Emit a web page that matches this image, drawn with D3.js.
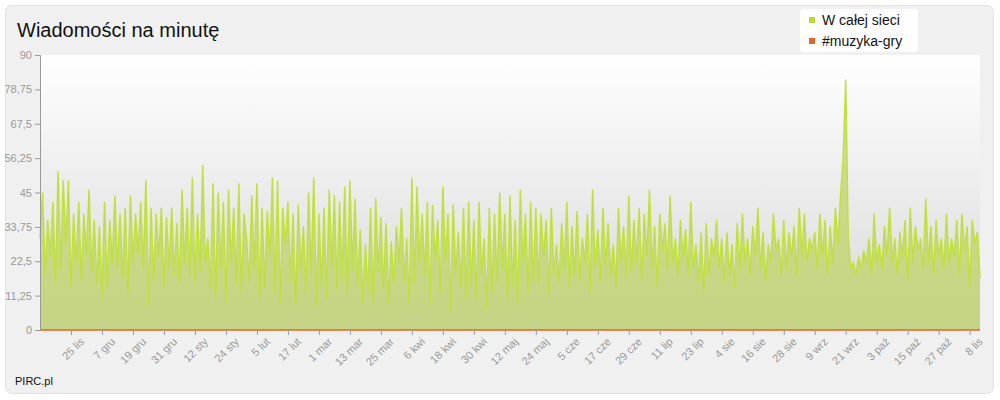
<!DOCTYPE html>
<html><head><meta charset="utf-8">
<script src="https://cdn.jsdelivr.net/npm/d3@7"></script>
<style>body{margin:0;background:#fff;font-family:"Liberation Sans",Arial,sans-serif}</style>
</head><body><svg id="chart" width="1000" height="400"></svg>
<script>
const startDate = new Date(2012, 10, 13);
const yTicks = [0, 11.25, 22.5, 33.75, 45, 56.25, 67.5, 78.75, 90];
const seriesNames = ["W całej sieci", "#muzyka-gry"];
const monthNames = ["sty","lut","mar","kwi","maj","cze","lip","sie","wrz","paź","lis","gru"];
// messages per minute, one value per day from 13 lis
const nov = [30,45,18,36,24,42,15,52,20,49,28,49,14,38,22,42,16,38];
const dec = [25,46,19,36,15,34,10,42,14,36,22,44,20,38,17,40,12,44,22,38,25,42,20,49,8,40,16,38,24,40,14];
const jan = [37,20,40,18,35,15,46,22,40,18,50,16,38,19,54,22,30,14,48,10,45,20,42,9,46,22,40,15,48,12,38];
const feb = [30,15,44,20,48,10,40,14,39,24,50,12,49,9,40,28,42,16,38,8,41,20,34,12,45,18,50,8];
const mar = [38,14,40,10,46,20,44,13,42,16,47,12,49,20,43,14,33,9,28,12,40,8,43,19,37,13,35,9,29,15,34];
const apr = [22,40,16,30,8,50,15,47,22,38,18,42,8,41,23,36,12,47,22,38,6,41,18,32,14,40,10,42,14,36];
const may = [10,42,18,30,7,40,12,38,15,45,20,38,10,44,14,36,8,46,22,38,12,42,16,40,15,38,24,36,12,40,18];
const jun = [28,15,35,20,42,14,34,18,39,16,30,22,38,12,46,20,33,16,40,21,35,18,28,14,40,22,34,17,44,19];
const jul = [36,22,40,16,38,24,46,20,34,14,38,26,35,20,44,22,30,18,36,24,33,18,42,20,28,16,32,12,35,18,30];
const aug = [24,36,20,30,16,32,18,28,14,35,20,38,22,30,18,34,24,40,20,32,16,28,22,38,26,30,18,36,20,32,24];
const sep = [34,18,40,24,38,22,30,26,32,20,38,24,36,18,34,22,40,28,44,56,82,30,20,22,18,24,20,26,22,30];
const oct = [18,38,22,28,20,34,24,40,22,30,18,32,24,36,16,40,22,34,26,30,20,43,22,34,18,36,24,30,20,38,22];
const nov2 = [30,24,36,18,38,26,34,14,36,28,32,17];
const values = [].concat(nov, dec, jan, feb, mar, apr, may, jun, jul, aug, sep, oct, nov2);
const channel = values.map(() => 0);

const svg = d3.select("#chart");
const L = 40, R = 980, T = 55, B = 330;
const data = values.map((v, i) => ({ d: d3.timeDay.offset(startDate, i), v, c: channel[i] }));
const x = d3.scaleTime().domain([startDate, data[data.length - 1].d]).range([L, R]);
const y = d3.scaleLinear().domain([0, 90]).range([B, T]);

const defs = svg.append("defs");
const bg = defs.append("linearGradient").attr("id", "bg").attr("x1", 0).attr("y1", 0).attr("x2", 0).attr("y2", 1);
bg.append("stop").attr("offset", 0).attr("stop-color", "#ffffff");
bg.append("stop").attr("offset", 1).attr("stop-color", "#d8d8d8");
const ag = defs.append("linearGradient").attr("id", "ag").attr("x1", 0).attr("y1", 0).attr("x2", 0).attr("y2", 1);
ag.append("stop").attr("offset", 0).attr("stop-color", "#cfe08a");
ag.append("stop").attr("offset", 1).attr("stop-color", "#c4d484");

svg.append("rect").attr("x", 5.5).attr("y", 5.5).attr("width", 988).attr("height", 388).attr("rx", 6)
  .attr("fill", "#f0f0f0").attr("stroke", "#e2e2ea");
svg.append("rect").attr("x", L).attr("y", T).attr("width", R - L).attr("height", B - T).attr("fill", "url(#bg)");

svg.append("path").datum(data).attr("fill", "url(#ag)")
  .attr("d", d3.area().x(d => x(d.d)).y0(B).y1(d => y(d.v)));
svg.append("path").datum(data).attr("fill", "none").attr("stroke", "#c0e040").attr("stroke-width", 1.5)
  .attr("d", d3.line().x(d => x(d.d)).y(d => y(d.v)));
svg.append("path").datum(data).attr("fill", "none").attr("stroke", "#e0662a").attr("stroke-width", 1.5)
  .attr("d", d3.line().x(d => x(d.d)).y(d => y(d.c)));

const yAxis = svg.append("g").attr("transform", `translate(${L},0)`)
  .call(d3.axisLeft(y).tickValues(yTicks).tickSize(5).tickFormat(d => String(d).replace(".", ",")));
yAxis.select(".domain").attr("stroke", "#999");
yAxis.selectAll(".tick line").attr("stroke", "#999");
yAxis.selectAll("text").attr("fill", "#999").attr("font-size", 11).attr("font-family", "Liberation Sans, Arial");

const xTicks = d3.timeDay.range(new Date(2012, 10, 25), data[data.length - 1].d, 12);
const xAxis = svg.append("g").attr("transform", `translate(0,${B})`)
  .call(d3.axisBottom(x).tickValues(xTicks).tickSize(5).tickFormat(d => d.getDate() + " " + monthNames[d.getMonth()]));
xAxis.select(".domain").remove();
xAxis.selectAll(".tick line").attr("stroke", "#999");
xAxis.selectAll("text").attr("fill", "#999").attr("font-size", 11).attr("font-family", "Liberation Sans, Arial")
  .attr("text-anchor", "end").attr("transform", "translate(3,2) rotate(-45)").attr("dy", "0.6em");

svg.append("text").attr("x", 17).attr("y", 37).attr("font-size", 20).attr("fill", "#111").text("Wiadomości na minutę");
svg.append("text").attr("x", 15).attr("y", 385).attr("font-size", 11).attr("fill", "#111").text("PIRC.pl");

const lg = svg.append("g");
lg.append("rect").attr("x", 800).attr("y", 9).attr("width", 118).attr("height", 43).attr("rx", 4).attr("fill", "#fff");
const lc = ["#b8dc30", "#e0662a"];
seriesNames.forEach((n, i) => {
  lg.append("rect").attr("x", 809).attr("y", 17 + i * 21).attr("width", 6).attr("height", 6).attr("fill", lc[i]);
  lg.append("text").attr("x", 822).attr("y", 25 + i * 21).attr("font-size", 14).attr("fill", "#111").text(n);
});
</script></body></html>
